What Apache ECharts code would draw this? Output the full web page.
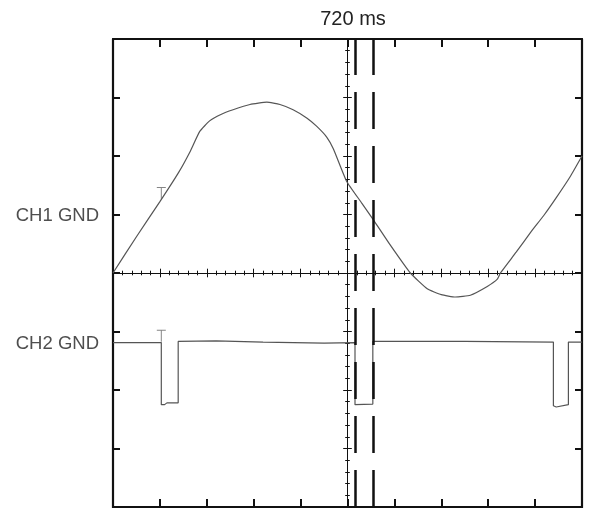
<!DOCTYPE html>
<html>
<head>
<meta charset="utf-8">
<script src="https://cdn.jsdelivr.net/npm/echarts@6/dist/echarts.min.js"></script>
<style>html,body{margin:0;padding:0;background:#fff;}#chart{width:598px;height:508px;}</style>
</head>
<body>
<div id="chart"></div>
<script>
// x in divisions (-5..5), y in divisions (-4..4)
const xTicks = [-5, 5, 1];
const yTicks = [-4, 4, 1];
const timeLabel = '720 ms';
const channelLabels = ['CH1 GND', 'CH2 GND'];
const channelGnd = [1, -1.19];
const cursors = [0.16, 0.54];
const triggerMarks = [[-3.97, 1.47], [-3.97, -0.97]];
const ch1 = [[-5,0],[-4.5,0.62],[-4,1.22],[-3.6,1.72],[-3.36,2.07],[-3.15,2.42],[-2.94,2.6],[-2.7,2.71],[-2.44,2.79],[-2.08,2.88],[-1.72,2.92],[-1.44,2.88],[-1.16,2.79],[-0.87,2.65],[-0.66,2.51],[-0.44,2.32],[-0.3,2.12],[-0.02,1.57],[0.3,1.2],[0.56,0.9],[0.91,0.48],[1.34,0],[1.7,-0.27],[2.0,-0.37],[2.3,-0.41],[2.62,-0.38],[2.98,-0.23],[3.19,-0.11],[3.26,0],[3.6,0.36],[3.9,0.69],[4.2,1.0],[4.47,1.31],[4.75,1.65],[5,2.0]];
const ch2 = [[-5,-1.19],[-3.97,-1.19],[-3.97,-2.25],[-3.9,-2.25],[-3.85,-2.22],[-3.61,-2.22],[-3.61,-1.17],[-2.8,-1.16],[-1.8,-1.18],[-0.5,-1.2],[0.16,-1.19],[0.16,-2.25],[0.2,-2.27],[0.54,-2.24],[0.54,-1.17],[2.5,-1.17],[4.39,-1.18],[4.39,-2.27],[4.45,-2.29],[4.71,-2.25],[4.71,-1.18],[5,-1.18]];

const chart = echarts.init(document.getElementById('chart'));
const ink = '#111';
const font = 'Liberation Sans, Arial, sans-serif';
function frameAxis(pos, len) {
  const isX = pos === 'top' || pos === 'bottom';
  return {
    type: 'value', position: pos, min: isX ? xTicks[0] : yTicks[0],
    max: isX ? xTicks[1] : yTicks[1], interval: 1,
    axisLine: { show: true, onZero: false, lineStyle: { color: ink, width: 2.2 } },
    axisTick: { show: true, inside: true, length: len, lineStyle: { color: ink, width: 2 } },
    axisLabel: { show: false }, splitLine: { show: false }
  };
}
function centerAxis(pos, inside, isX) {
  return {
    type: 'value', position: pos,
    min: isX ? xTicks[0] : yTicks[0], max: isX ? xTicks[1] : yTicks[1], interval: 1,
    axisLine: { show: true, onZero: true, onZeroAxisIndex: 0, lineStyle: { color: ink, width: 1 } },
    axisTick: { show: true, inside: inside, length: 4.3, lineStyle: { color: ink, width: 1 } },
    minorTick: { show: true, splitNumber: 5, length: 2.3, lineStyle: { color: ink, width: 1 } },
    axisLabel: { show: false }, splitLine: { show: false }
  };
}
const option = {
  animation: false,
  backgroundColor: '#fff',
  grid: { left: 113, top: 39, width: 469, height: 468, containLabel: false },
  xAxis: [frameAxis('bottom', 8), frameAxis('top', 8), centerAxis('bottom', true, true), centerAxis('bottom', false, true)],
  yAxis: [frameAxis('left', 7), frameAxis('right', 7), centerAxis('left', true, false), centerAxis('left', false, false)],
  graphic: [
    { type: 'text', x: 353, y: 19, style: { text: timeLabel, font: '20px ' + font, fill: '#222', align: 'center', verticalAlign: 'middle' } }
  ],
  series: [
    {
      type: 'line', data: ch1, xAxisIndex: 0, yAxisIndex: 0, symbol: 'none', smooth: 0.15,
      lineStyle: { color: '#555', width: 1.2 },
      markLine: {
        silent: true, symbol: 'none', label: { show: false },
        lineStyle: { color: ink, width: 2.5, type: [37, 17] },
        data: cursors.map(v => ({ xAxis: v }))
      }
    },
    { type: 'line', data: ch2, xAxisIndex: 0, yAxisIndex: 0, symbol: 'none', lineStyle: { color: '#555', width: 1.2 } },
    {
      type: 'scatter', data: triggerMarks, xAxisIndex: 0, yAxisIndex: 0,
      symbol: 'path://M0,0H9V1H5V12H4V1H0Z', symbolSize: [9, 12], symbolOffset: [0, 6],
      itemStyle: { color: '#666' }
    },
    {
      type: 'scatter', data: channelGnd.map(v => [xTicks[0], v]), xAxisIndex: 0, yAxisIndex: 0,
      symbolSize: 0,
      label: { show: true, position: 'left', distance: 14, offset: [0, 1.5], formatter: p => channelLabels[p.dataIndex], fontFamily: font, fontSize: 18.5, color: '#222' }
    }
  ]
};
chart.setOption(option);
</script>
</body>
</html>
